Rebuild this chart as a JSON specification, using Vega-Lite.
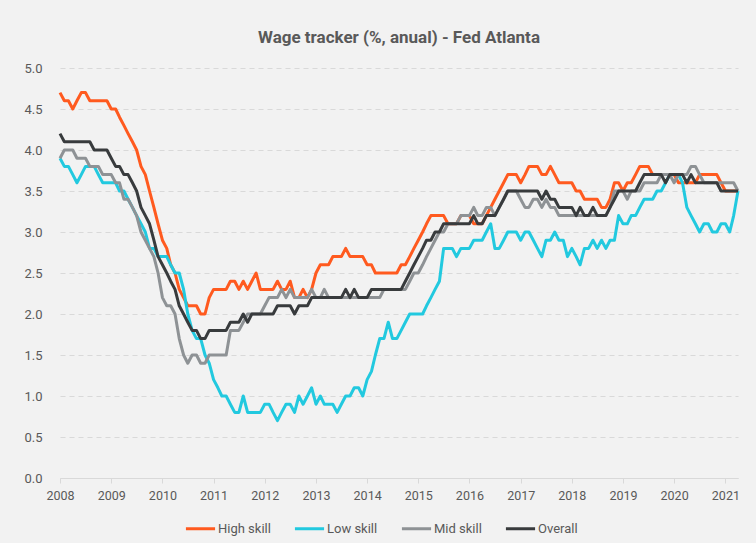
{"$schema":"https://vega.github.io/schema/vega-lite/v6.json","width":678,"height":410,"autosize":{"type":"none"},"padding":{"left":60,"top":68,"right":18,"bottom":65},"background":"#f2f2f2","config":{"view":{"stroke":null},"font":"Roboto"},"title":{"text":"Wage tracker (%, anual) - Fed Atlanta","fontSize":17,"fontWeight":"bold","color":"#595959","font":"Roboto","anchor":"middle","offset":15},"data":{"values":[
{"date":"2008-01-01","series":"High skill","value":4.7},{"date":"2008-02-01","series":"High skill","value":4.6},{"date":"2008-03-01","series":"High skill","value":4.6},{"date":"2008-04-01","series":"High skill","value":4.5},{"date":"2008-05-01","series":"High skill","value":4.6},{"date":"2008-06-01","series":"High skill","value":4.7},{"date":"2008-07-01","series":"High skill","value":4.7},{"date":"2008-08-01","series":"High skill","value":4.6},{"date":"2008-09-01","series":"High skill","value":4.6},{"date":"2008-10-01","series":"High skill","value":4.6},{"date":"2008-11-01","series":"High skill","value":4.6},{"date":"2008-12-01","series":"High skill","value":4.6},
{"date":"2009-01-01","series":"High skill","value":4.5},{"date":"2009-02-01","series":"High skill","value":4.5},{"date":"2009-03-01","series":"High skill","value":4.4},{"date":"2009-04-01","series":"High skill","value":4.3},{"date":"2009-05-01","series":"High skill","value":4.2},{"date":"2009-06-01","series":"High skill","value":4.1},{"date":"2009-07-01","series":"High skill","value":4.0},{"date":"2009-08-01","series":"High skill","value":3.8},{"date":"2009-09-01","series":"High skill","value":3.7},{"date":"2009-10-01","series":"High skill","value":3.5},{"date":"2009-11-01","series":"High skill","value":3.3},{"date":"2009-12-01","series":"High skill","value":3.1},
{"date":"2010-01-01","series":"High skill","value":2.9},{"date":"2010-02-01","series":"High skill","value":2.8},{"date":"2010-03-01","series":"High skill","value":2.6},{"date":"2010-04-01","series":"High skill","value":2.5},{"date":"2010-05-01","series":"High skill","value":2.3},{"date":"2010-06-01","series":"High skill","value":2.2},{"date":"2010-07-01","series":"High skill","value":2.1},{"date":"2010-08-01","series":"High skill","value":2.1},{"date":"2010-09-01","series":"High skill","value":2.1},{"date":"2010-10-01","series":"High skill","value":2.0},{"date":"2010-11-01","series":"High skill","value":2.0},{"date":"2010-12-01","series":"High skill","value":2.2},
{"date":"2011-01-01","series":"High skill","value":2.3},{"date":"2011-02-01","series":"High skill","value":2.3},{"date":"2011-03-01","series":"High skill","value":2.3},{"date":"2011-04-01","series":"High skill","value":2.3},{"date":"2011-05-01","series":"High skill","value":2.4},{"date":"2011-06-01","series":"High skill","value":2.4},{"date":"2011-07-01","series":"High skill","value":2.3},{"date":"2011-08-01","series":"High skill","value":2.4},{"date":"2011-09-01","series":"High skill","value":2.3},{"date":"2011-10-01","series":"High skill","value":2.4},{"date":"2011-11-01","series":"High skill","value":2.5},{"date":"2011-12-01","series":"High skill","value":2.3},
{"date":"2012-01-01","series":"High skill","value":2.3},{"date":"2012-02-01","series":"High skill","value":2.3},{"date":"2012-03-01","series":"High skill","value":2.3},{"date":"2012-04-01","series":"High skill","value":2.4},{"date":"2012-05-01","series":"High skill","value":2.3},{"date":"2012-06-01","series":"High skill","value":2.3},{"date":"2012-07-01","series":"High skill","value":2.4},{"date":"2012-08-01","series":"High skill","value":2.2},{"date":"2012-09-01","series":"High skill","value":2.2},{"date":"2012-10-01","series":"High skill","value":2.3},{"date":"2012-11-01","series":"High skill","value":2.2},{"date":"2012-12-01","series":"High skill","value":2.3},
{"date":"2013-01-01","series":"High skill","value":2.5},{"date":"2013-02-01","series":"High skill","value":2.6},{"date":"2013-03-01","series":"High skill","value":2.6},{"date":"2013-04-01","series":"High skill","value":2.6},{"date":"2013-05-01","series":"High skill","value":2.7},{"date":"2013-06-01","series":"High skill","value":2.7},{"date":"2013-07-01","series":"High skill","value":2.7},{"date":"2013-08-01","series":"High skill","value":2.8},{"date":"2013-09-01","series":"High skill","value":2.7},{"date":"2013-10-01","series":"High skill","value":2.7},{"date":"2013-11-01","series":"High skill","value":2.7},{"date":"2013-12-01","series":"High skill","value":2.7},
{"date":"2014-01-01","series":"High skill","value":2.6},{"date":"2014-02-01","series":"High skill","value":2.6},{"date":"2014-03-01","series":"High skill","value":2.5},{"date":"2014-04-01","series":"High skill","value":2.5},{"date":"2014-05-01","series":"High skill","value":2.5},{"date":"2014-06-01","series":"High skill","value":2.5},{"date":"2014-07-01","series":"High skill","value":2.5},{"date":"2014-08-01","series":"High skill","value":2.5},{"date":"2014-09-01","series":"High skill","value":2.6},{"date":"2014-10-01","series":"High skill","value":2.6},{"date":"2014-11-01","series":"High skill","value":2.7},{"date":"2014-12-01","series":"High skill","value":2.8},
{"date":"2015-01-01","series":"High skill","value":2.9},{"date":"2015-02-01","series":"High skill","value":3.0},{"date":"2015-03-01","series":"High skill","value":3.1},{"date":"2015-04-01","series":"High skill","value":3.2},{"date":"2015-05-01","series":"High skill","value":3.2},{"date":"2015-06-01","series":"High skill","value":3.2},{"date":"2015-07-01","series":"High skill","value":3.2},{"date":"2015-08-01","series":"High skill","value":3.1},{"date":"2015-09-01","series":"High skill","value":3.1},{"date":"2015-10-01","series":"High skill","value":3.1},{"date":"2015-11-01","series":"High skill","value":3.2},{"date":"2015-12-01","series":"High skill","value":3.2},
{"date":"2016-01-01","series":"High skill","value":3.2},{"date":"2016-02-01","series":"High skill","value":3.1},{"date":"2016-03-01","series":"High skill","value":3.1},{"date":"2016-04-01","series":"High skill","value":3.1},{"date":"2016-05-01","series":"High skill","value":3.2},{"date":"2016-06-01","series":"High skill","value":3.3},{"date":"2016-07-01","series":"High skill","value":3.4},{"date":"2016-08-01","series":"High skill","value":3.5},{"date":"2016-09-01","series":"High skill","value":3.6},{"date":"2016-10-01","series":"High skill","value":3.7},{"date":"2016-11-01","series":"High skill","value":3.7},{"date":"2016-12-01","series":"High skill","value":3.7},
{"date":"2017-01-01","series":"High skill","value":3.6},{"date":"2017-02-01","series":"High skill","value":3.7},{"date":"2017-03-01","series":"High skill","value":3.8},{"date":"2017-04-01","series":"High skill","value":3.8},{"date":"2017-05-01","series":"High skill","value":3.8},{"date":"2017-06-01","series":"High skill","value":3.7},{"date":"2017-07-01","series":"High skill","value":3.7},{"date":"2017-08-01","series":"High skill","value":3.8},{"date":"2017-09-01","series":"High skill","value":3.7},{"date":"2017-10-01","series":"High skill","value":3.6},{"date":"2017-11-01","series":"High skill","value":3.6},{"date":"2017-12-01","series":"High skill","value":3.6},
{"date":"2018-01-01","series":"High skill","value":3.6},{"date":"2018-02-01","series":"High skill","value":3.5},{"date":"2018-03-01","series":"High skill","value":3.5},{"date":"2018-04-01","series":"High skill","value":3.4},{"date":"2018-05-01","series":"High skill","value":3.4},{"date":"2018-06-01","series":"High skill","value":3.4},{"date":"2018-07-01","series":"High skill","value":3.4},{"date":"2018-08-01","series":"High skill","value":3.3},{"date":"2018-09-01","series":"High skill","value":3.3},{"date":"2018-10-01","series":"High skill","value":3.4},{"date":"2018-11-01","series":"High skill","value":3.6},{"date":"2018-12-01","series":"High skill","value":3.6},
{"date":"2019-01-01","series":"High skill","value":3.5},{"date":"2019-02-01","series":"High skill","value":3.6},{"date":"2019-03-01","series":"High skill","value":3.6},{"date":"2019-04-01","series":"High skill","value":3.7},{"date":"2019-05-01","series":"High skill","value":3.8},{"date":"2019-06-01","series":"High skill","value":3.8},{"date":"2019-07-01","series":"High skill","value":3.8},{"date":"2019-08-01","series":"High skill","value":3.7},{"date":"2019-09-01","series":"High skill","value":3.7},{"date":"2019-10-01","series":"High skill","value":3.7},{"date":"2019-11-01","series":"High skill","value":3.7},{"date":"2019-12-01","series":"High skill","value":3.7},
{"date":"2020-01-01","series":"High skill","value":3.7},{"date":"2020-02-01","series":"High skill","value":3.6},{"date":"2020-03-01","series":"High skill","value":3.6},{"date":"2020-04-01","series":"High skill","value":3.6},{"date":"2020-05-01","series":"High skill","value":3.6},{"date":"2020-06-01","series":"High skill","value":3.6},{"date":"2020-07-01","series":"High skill","value":3.7},{"date":"2020-08-01","series":"High skill","value":3.7},{"date":"2020-09-01","series":"High skill","value":3.7},{"date":"2020-10-01","series":"High skill","value":3.7},{"date":"2020-11-01","series":"High skill","value":3.7},{"date":"2020-12-01","series":"High skill","value":3.6},
{"date":"2021-01-01","series":"High skill","value":3.5},{"date":"2021-02-01","series":"High skill","value":3.5},{"date":"2021-03-01","series":"High skill","value":3.5},{"date":"2021-04-01","series":"High skill","value":3.5},
{"date":"2008-01-01","series":"Low skill","value":3.9},{"date":"2008-02-01","series":"Low skill","value":3.8},{"date":"2008-03-01","series":"Low skill","value":3.8},{"date":"2008-04-01","series":"Low skill","value":3.7},{"date":"2008-05-01","series":"Low skill","value":3.6},{"date":"2008-06-01","series":"Low skill","value":3.7},{"date":"2008-07-01","series":"Low skill","value":3.8},{"date":"2008-08-01","series":"Low skill","value":3.8},{"date":"2008-09-01","series":"Low skill","value":3.8},{"date":"2008-10-01","series":"Low skill","value":3.7},{"date":"2008-11-01","series":"Low skill","value":3.6},{"date":"2008-12-01","series":"Low skill","value":3.6},
{"date":"2009-01-01","series":"Low skill","value":3.6},{"date":"2009-02-01","series":"Low skill","value":3.6},{"date":"2009-03-01","series":"Low skill","value":3.5},{"date":"2009-04-01","series":"Low skill","value":3.5},{"date":"2009-05-01","series":"Low skill","value":3.4},{"date":"2009-06-01","series":"Low skill","value":3.3},{"date":"2009-07-01","series":"Low skill","value":3.2},{"date":"2009-08-01","series":"Low skill","value":3.1},{"date":"2009-09-01","series":"Low skill","value":3.0},{"date":"2009-10-01","series":"Low skill","value":2.8},{"date":"2009-11-01","series":"Low skill","value":2.8},{"date":"2009-12-01","series":"Low skill","value":2.7},
{"date":"2010-01-01","series":"Low skill","value":2.7},{"date":"2010-02-01","series":"Low skill","value":2.7},{"date":"2010-03-01","series":"Low skill","value":2.6},{"date":"2010-04-01","series":"Low skill","value":2.5},{"date":"2010-05-01","series":"Low skill","value":2.5},{"date":"2010-06-01","series":"Low skill","value":2.3},{"date":"2010-07-01","series":"Low skill","value":2.0},{"date":"2010-08-01","series":"Low skill","value":1.8},{"date":"2010-09-01","series":"Low skill","value":1.7},{"date":"2010-10-01","series":"Low skill","value":1.7},{"date":"2010-11-01","series":"Low skill","value":1.5},{"date":"2010-12-01","series":"Low skill","value":1.4},
{"date":"2011-01-01","series":"Low skill","value":1.2},{"date":"2011-02-01","series":"Low skill","value":1.1},{"date":"2011-03-01","series":"Low skill","value":1.0},{"date":"2011-04-01","series":"Low skill","value":1.0},{"date":"2011-05-01","series":"Low skill","value":0.9},{"date":"2011-06-01","series":"Low skill","value":0.8},{"date":"2011-07-01","series":"Low skill","value":0.8},{"date":"2011-08-01","series":"Low skill","value":1.0},{"date":"2011-09-01","series":"Low skill","value":0.8},{"date":"2011-10-01","series":"Low skill","value":0.8},{"date":"2011-11-01","series":"Low skill","value":0.8},{"date":"2011-12-01","series":"Low skill","value":0.8},
{"date":"2012-01-01","series":"Low skill","value":0.9},{"date":"2012-02-01","series":"Low skill","value":0.9},{"date":"2012-03-01","series":"Low skill","value":0.8},{"date":"2012-04-01","series":"Low skill","value":0.7},{"date":"2012-05-01","series":"Low skill","value":0.8},{"date":"2012-06-01","series":"Low skill","value":0.9},{"date":"2012-07-01","series":"Low skill","value":0.9},{"date":"2012-08-01","series":"Low skill","value":0.8},{"date":"2012-09-01","series":"Low skill","value":1.0},{"date":"2012-10-01","series":"Low skill","value":0.9},{"date":"2012-11-01","series":"Low skill","value":1.0},{"date":"2012-12-01","series":"Low skill","value":1.1},
{"date":"2013-01-01","series":"Low skill","value":0.9},{"date":"2013-02-01","series":"Low skill","value":1.0},{"date":"2013-03-01","series":"Low skill","value":0.9},{"date":"2013-04-01","series":"Low skill","value":0.9},{"date":"2013-05-01","series":"Low skill","value":0.9},{"date":"2013-06-01","series":"Low skill","value":0.8},{"date":"2013-07-01","series":"Low skill","value":0.9},{"date":"2013-08-01","series":"Low skill","value":1.0},{"date":"2013-09-01","series":"Low skill","value":1.0},{"date":"2013-10-01","series":"Low skill","value":1.1},{"date":"2013-11-01","series":"Low skill","value":1.1},{"date":"2013-12-01","series":"Low skill","value":1.0},
{"date":"2014-01-01","series":"Low skill","value":1.2},{"date":"2014-02-01","series":"Low skill","value":1.3},{"date":"2014-03-01","series":"Low skill","value":1.5},{"date":"2014-04-01","series":"Low skill","value":1.7},{"date":"2014-05-01","series":"Low skill","value":1.7},{"date":"2014-06-01","series":"Low skill","value":1.9},{"date":"2014-07-01","series":"Low skill","value":1.7},{"date":"2014-08-01","series":"Low skill","value":1.7},{"date":"2014-09-01","series":"Low skill","value":1.8},{"date":"2014-10-01","series":"Low skill","value":1.9},{"date":"2014-11-01","series":"Low skill","value":2.0},{"date":"2014-12-01","series":"Low skill","value":2.0},
{"date":"2015-01-01","series":"Low skill","value":2.0},{"date":"2015-02-01","series":"Low skill","value":2.0},{"date":"2015-03-01","series":"Low skill","value":2.1},{"date":"2015-04-01","series":"Low skill","value":2.2},{"date":"2015-05-01","series":"Low skill","value":2.3},{"date":"2015-06-01","series":"Low skill","value":2.4},{"date":"2015-07-01","series":"Low skill","value":2.8},{"date":"2015-08-01","series":"Low skill","value":2.8},{"date":"2015-09-01","series":"Low skill","value":2.8},{"date":"2015-10-01","series":"Low skill","value":2.7},{"date":"2015-11-01","series":"Low skill","value":2.8},{"date":"2015-12-01","series":"Low skill","value":2.8},
{"date":"2016-01-01","series":"Low skill","value":2.8},{"date":"2016-02-01","series":"Low skill","value":2.9},{"date":"2016-03-01","series":"Low skill","value":2.9},{"date":"2016-04-01","series":"Low skill","value":2.9},{"date":"2016-05-01","series":"Low skill","value":3.0},{"date":"2016-06-01","series":"Low skill","value":3.1},{"date":"2016-07-01","series":"Low skill","value":2.8},{"date":"2016-08-01","series":"Low skill","value":2.8},{"date":"2016-09-01","series":"Low skill","value":2.9},{"date":"2016-10-01","series":"Low skill","value":3.0},{"date":"2016-11-01","series":"Low skill","value":3.0},{"date":"2016-12-01","series":"Low skill","value":3.0},
{"date":"2017-01-01","series":"Low skill","value":2.9},{"date":"2017-02-01","series":"Low skill","value":3.0},{"date":"2017-03-01","series":"Low skill","value":3.0},{"date":"2017-04-01","series":"Low skill","value":2.9},{"date":"2017-05-01","series":"Low skill","value":2.8},{"date":"2017-06-01","series":"Low skill","value":2.7},{"date":"2017-07-01","series":"Low skill","value":2.9},{"date":"2017-08-01","series":"Low skill","value":2.9},{"date":"2017-09-01","series":"Low skill","value":3.0},{"date":"2017-10-01","series":"Low skill","value":2.9},{"date":"2017-11-01","series":"Low skill","value":2.9},{"date":"2017-12-01","series":"Low skill","value":2.7},
{"date":"2018-01-01","series":"Low skill","value":2.8},{"date":"2018-02-01","series":"Low skill","value":2.7},{"date":"2018-03-01","series":"Low skill","value":2.6},{"date":"2018-04-01","series":"Low skill","value":2.8},{"date":"2018-05-01","series":"Low skill","value":2.8},{"date":"2018-06-01","series":"Low skill","value":2.9},{"date":"2018-07-01","series":"Low skill","value":2.8},{"date":"2018-08-01","series":"Low skill","value":2.9},{"date":"2018-09-01","series":"Low skill","value":2.8},{"date":"2018-10-01","series":"Low skill","value":2.9},{"date":"2018-11-01","series":"Low skill","value":2.9},{"date":"2018-12-01","series":"Low skill","value":3.2},
{"date":"2019-01-01","series":"Low skill","value":3.1},{"date":"2019-02-01","series":"Low skill","value":3.1},{"date":"2019-03-01","series":"Low skill","value":3.2},{"date":"2019-04-01","series":"Low skill","value":3.2},{"date":"2019-05-01","series":"Low skill","value":3.3},{"date":"2019-06-01","series":"Low skill","value":3.4},{"date":"2019-07-01","series":"Low skill","value":3.4},{"date":"2019-08-01","series":"Low skill","value":3.4},{"date":"2019-09-01","series":"Low skill","value":3.5},{"date":"2019-10-01","series":"Low skill","value":3.5},{"date":"2019-11-01","series":"Low skill","value":3.6},{"date":"2019-12-01","series":"Low skill","value":3.7},
{"date":"2020-01-01","series":"Low skill","value":3.7},{"date":"2020-02-01","series":"Low skill","value":3.7},{"date":"2020-03-01","series":"Low skill","value":3.6},{"date":"2020-04-01","series":"Low skill","value":3.3},{"date":"2020-05-01","series":"Low skill","value":3.2},{"date":"2020-06-01","series":"Low skill","value":3.1},{"date":"2020-07-01","series":"Low skill","value":3.0},{"date":"2020-08-01","series":"Low skill","value":3.1},{"date":"2020-09-01","series":"Low skill","value":3.1},{"date":"2020-10-01","series":"Low skill","value":3.0},{"date":"2020-11-01","series":"Low skill","value":3.0},{"date":"2020-12-01","series":"Low skill","value":3.1},
{"date":"2021-01-01","series":"Low skill","value":3.1},{"date":"2021-02-01","series":"Low skill","value":3.0},{"date":"2021-03-01","series":"Low skill","value":3.2},{"date":"2021-04-01","series":"Low skill","value":3.5},
{"date":"2008-01-01","series":"Mid skill","value":3.9},{"date":"2008-02-01","series":"Mid skill","value":4.0},{"date":"2008-03-01","series":"Mid skill","value":4.0},{"date":"2008-04-01","series":"Mid skill","value":4.0},{"date":"2008-05-01","series":"Mid skill","value":3.9},{"date":"2008-06-01","series":"Mid skill","value":3.9},{"date":"2008-07-01","series":"Mid skill","value":3.9},{"date":"2008-08-01","series":"Mid skill","value":3.8},{"date":"2008-09-01","series":"Mid skill","value":3.8},{"date":"2008-10-01","series":"Mid skill","value":3.8},{"date":"2008-11-01","series":"Mid skill","value":3.7},{"date":"2008-12-01","series":"Mid skill","value":3.7},
{"date":"2009-01-01","series":"Mid skill","value":3.7},{"date":"2009-02-01","series":"Mid skill","value":3.6},{"date":"2009-03-01","series":"Mid skill","value":3.6},{"date":"2009-04-01","series":"Mid skill","value":3.4},{"date":"2009-05-01","series":"Mid skill","value":3.4},{"date":"2009-06-01","series":"Mid skill","value":3.3},{"date":"2009-07-01","series":"Mid skill","value":3.2},{"date":"2009-08-01","series":"Mid skill","value":3.0},{"date":"2009-09-01","series":"Mid skill","value":2.9},{"date":"2009-10-01","series":"Mid skill","value":2.8},{"date":"2009-11-01","series":"Mid skill","value":2.7},{"date":"2009-12-01","series":"Mid skill","value":2.5},
{"date":"2010-01-01","series":"Mid skill","value":2.2},{"date":"2010-02-01","series":"Mid skill","value":2.1},{"date":"2010-03-01","series":"Mid skill","value":2.1},{"date":"2010-04-01","series":"Mid skill","value":2.0},{"date":"2010-05-01","series":"Mid skill","value":1.7},{"date":"2010-06-01","series":"Mid skill","value":1.5},{"date":"2010-07-01","series":"Mid skill","value":1.4},{"date":"2010-08-01","series":"Mid skill","value":1.5},{"date":"2010-09-01","series":"Mid skill","value":1.5},{"date":"2010-10-01","series":"Mid skill","value":1.4},{"date":"2010-11-01","series":"Mid skill","value":1.4},{"date":"2010-12-01","series":"Mid skill","value":1.5},
{"date":"2011-01-01","series":"Mid skill","value":1.5},{"date":"2011-02-01","series":"Mid skill","value":1.5},{"date":"2011-03-01","series":"Mid skill","value":1.5},{"date":"2011-04-01","series":"Mid skill","value":1.5},{"date":"2011-05-01","series":"Mid skill","value":1.8},{"date":"2011-06-01","series":"Mid skill","value":1.8},{"date":"2011-07-01","series":"Mid skill","value":1.8},{"date":"2011-08-01","series":"Mid skill","value":1.9},{"date":"2011-09-01","series":"Mid skill","value":2.0},{"date":"2011-10-01","series":"Mid skill","value":2.0},{"date":"2011-11-01","series":"Mid skill","value":2.0},{"date":"2011-12-01","series":"Mid skill","value":2.0},
{"date":"2012-01-01","series":"Mid skill","value":2.1},{"date":"2012-02-01","series":"Mid skill","value":2.2},{"date":"2012-03-01","series":"Mid skill","value":2.2},{"date":"2012-04-01","series":"Mid skill","value":2.2},{"date":"2012-05-01","series":"Mid skill","value":2.3},{"date":"2012-06-01","series":"Mid skill","value":2.2},{"date":"2012-07-01","series":"Mid skill","value":2.3},{"date":"2012-08-01","series":"Mid skill","value":2.2},{"date":"2012-09-01","series":"Mid skill","value":2.2},{"date":"2012-10-01","series":"Mid skill","value":2.2},{"date":"2012-11-01","series":"Mid skill","value":2.2},{"date":"2012-12-01","series":"Mid skill","value":2.3},
{"date":"2013-01-01","series":"Mid skill","value":2.2},{"date":"2013-02-01","series":"Mid skill","value":2.2},{"date":"2013-03-01","series":"Mid skill","value":2.3},{"date":"2013-04-01","series":"Mid skill","value":2.2},{"date":"2013-05-01","series":"Mid skill","value":2.2},{"date":"2013-06-01","series":"Mid skill","value":2.2},{"date":"2013-07-01","series":"Mid skill","value":2.2},{"date":"2013-08-01","series":"Mid skill","value":2.2},{"date":"2013-09-01","series":"Mid skill","value":2.2},{"date":"2013-10-01","series":"Mid skill","value":2.2},{"date":"2013-11-01","series":"Mid skill","value":2.2},{"date":"2013-12-01","series":"Mid skill","value":2.2},
{"date":"2014-01-01","series":"Mid skill","value":2.2},{"date":"2014-02-01","series":"Mid skill","value":2.2},{"date":"2014-03-01","series":"Mid skill","value":2.2},{"date":"2014-04-01","series":"Mid skill","value":2.2},{"date":"2014-05-01","series":"Mid skill","value":2.3},{"date":"2014-06-01","series":"Mid skill","value":2.3},{"date":"2014-07-01","series":"Mid skill","value":2.3},{"date":"2014-08-01","series":"Mid skill","value":2.3},{"date":"2014-09-01","series":"Mid skill","value":2.3},{"date":"2014-10-01","series":"Mid skill","value":2.3},{"date":"2014-11-01","series":"Mid skill","value":2.4},{"date":"2014-12-01","series":"Mid skill","value":2.5},
{"date":"2015-01-01","series":"Mid skill","value":2.5},{"date":"2015-02-01","series":"Mid skill","value":2.6},{"date":"2015-03-01","series":"Mid skill","value":2.7},{"date":"2015-04-01","series":"Mid skill","value":2.8},{"date":"2015-05-01","series":"Mid skill","value":2.9},{"date":"2015-06-01","series":"Mid skill","value":3.0},{"date":"2015-07-01","series":"Mid skill","value":3.0},{"date":"2015-08-01","series":"Mid skill","value":3.1},{"date":"2015-09-01","series":"Mid skill","value":3.1},{"date":"2015-10-01","series":"Mid skill","value":3.1},{"date":"2015-11-01","series":"Mid skill","value":3.2},{"date":"2015-12-01","series":"Mid skill","value":3.2},
{"date":"2016-01-01","series":"Mid skill","value":3.2},{"date":"2016-02-01","series":"Mid skill","value":3.3},{"date":"2016-03-01","series":"Mid skill","value":3.2},{"date":"2016-04-01","series":"Mid skill","value":3.2},{"date":"2016-05-01","series":"Mid skill","value":3.3},{"date":"2016-06-01","series":"Mid skill","value":3.3},{"date":"2016-07-01","series":"Mid skill","value":3.2},{"date":"2016-08-01","series":"Mid skill","value":3.3},{"date":"2016-09-01","series":"Mid skill","value":3.4},{"date":"2016-10-01","series":"Mid skill","value":3.5},{"date":"2016-11-01","series":"Mid skill","value":3.5},{"date":"2016-12-01","series":"Mid skill","value":3.5},
{"date":"2017-01-01","series":"Mid skill","value":3.4},{"date":"2017-02-01","series":"Mid skill","value":3.3},{"date":"2017-03-01","series":"Mid skill","value":3.3},{"date":"2017-04-01","series":"Mid skill","value":3.4},{"date":"2017-05-01","series":"Mid skill","value":3.4},{"date":"2017-06-01","series":"Mid skill","value":3.3},{"date":"2017-07-01","series":"Mid skill","value":3.4},{"date":"2017-08-01","series":"Mid skill","value":3.3},{"date":"2017-09-01","series":"Mid skill","value":3.3},{"date":"2017-10-01","series":"Mid skill","value":3.2},{"date":"2017-11-01","series":"Mid skill","value":3.2},{"date":"2017-12-01","series":"Mid skill","value":3.2},
{"date":"2018-01-01","series":"Mid skill","value":3.2},{"date":"2018-02-01","series":"Mid skill","value":3.2},{"date":"2018-03-01","series":"Mid skill","value":3.2},{"date":"2018-04-01","series":"Mid skill","value":3.2},{"date":"2018-05-01","series":"Mid skill","value":3.2},{"date":"2018-06-01","series":"Mid skill","value":3.2},{"date":"2018-07-01","series":"Mid skill","value":3.2},{"date":"2018-08-01","series":"Mid skill","value":3.2},{"date":"2018-09-01","series":"Mid skill","value":3.2},{"date":"2018-10-01","series":"Mid skill","value":3.3},{"date":"2018-11-01","series":"Mid skill","value":3.5},{"date":"2018-12-01","series":"Mid skill","value":3.5},
{"date":"2019-01-01","series":"Mid skill","value":3.5},{"date":"2019-02-01","series":"Mid skill","value":3.4},{"date":"2019-03-01","series":"Mid skill","value":3.5},{"date":"2019-04-01","series":"Mid skill","value":3.5},{"date":"2019-05-01","series":"Mid skill","value":3.5},{"date":"2019-06-01","series":"Mid skill","value":3.6},{"date":"2019-07-01","series":"Mid skill","value":3.6},{"date":"2019-08-01","series":"Mid skill","value":3.6},{"date":"2019-09-01","series":"Mid skill","value":3.6},{"date":"2019-10-01","series":"Mid skill","value":3.7},{"date":"2019-11-01","series":"Mid skill","value":3.7},{"date":"2019-12-01","series":"Mid skill","value":3.7},
{"date":"2020-01-01","series":"Mid skill","value":3.6},{"date":"2020-02-01","series":"Mid skill","value":3.7},{"date":"2020-03-01","series":"Mid skill","value":3.7},{"date":"2020-04-01","series":"Mid skill","value":3.7},{"date":"2020-05-01","series":"Mid skill","value":3.8},{"date":"2020-06-01","series":"Mid skill","value":3.8},{"date":"2020-07-01","series":"Mid skill","value":3.7},{"date":"2020-08-01","series":"Mid skill","value":3.6},{"date":"2020-09-01","series":"Mid skill","value":3.6},{"date":"2020-10-01","series":"Mid skill","value":3.6},{"date":"2020-11-01","series":"Mid skill","value":3.6},{"date":"2020-12-01","series":"Mid skill","value":3.6},
{"date":"2021-01-01","series":"Mid skill","value":3.6},{"date":"2021-02-01","series":"Mid skill","value":3.6},{"date":"2021-03-01","series":"Mid skill","value":3.6},{"date":"2021-04-01","series":"Mid skill","value":3.5},
{"date":"2008-01-01","series":"Overall","value":4.2},{"date":"2008-02-01","series":"Overall","value":4.1},{"date":"2008-03-01","series":"Overall","value":4.1},{"date":"2008-04-01","series":"Overall","value":4.1},{"date":"2008-05-01","series":"Overall","value":4.1},{"date":"2008-06-01","series":"Overall","value":4.1},{"date":"2008-07-01","series":"Overall","value":4.1},{"date":"2008-08-01","series":"Overall","value":4.1},{"date":"2008-09-01","series":"Overall","value":4.0},{"date":"2008-10-01","series":"Overall","value":4.0},{"date":"2008-11-01","series":"Overall","value":4.0},{"date":"2008-12-01","series":"Overall","value":4.0},
{"date":"2009-01-01","series":"Overall","value":3.9},{"date":"2009-02-01","series":"Overall","value":3.8},{"date":"2009-03-01","series":"Overall","value":3.8},{"date":"2009-04-01","series":"Overall","value":3.7},{"date":"2009-05-01","series":"Overall","value":3.7},{"date":"2009-06-01","series":"Overall","value":3.6},{"date":"2009-07-01","series":"Overall","value":3.5},{"date":"2009-08-01","series":"Overall","value":3.3},{"date":"2009-09-01","series":"Overall","value":3.2},{"date":"2009-10-01","series":"Overall","value":3.1},{"date":"2009-11-01","series":"Overall","value":2.9},{"date":"2009-12-01","series":"Overall","value":2.7},
{"date":"2010-01-01","series":"Overall","value":2.6},{"date":"2010-02-01","series":"Overall","value":2.5},{"date":"2010-03-01","series":"Overall","value":2.4},{"date":"2010-04-01","series":"Overall","value":2.3},{"date":"2010-05-01","series":"Overall","value":2.1},{"date":"2010-06-01","series":"Overall","value":2.0},{"date":"2010-07-01","series":"Overall","value":1.9},{"date":"2010-08-01","series":"Overall","value":1.8},{"date":"2010-09-01","series":"Overall","value":1.8},{"date":"2010-10-01","series":"Overall","value":1.7},{"date":"2010-11-01","series":"Overall","value":1.7},{"date":"2010-12-01","series":"Overall","value":1.8},
{"date":"2011-01-01","series":"Overall","value":1.8},{"date":"2011-02-01","series":"Overall","value":1.8},{"date":"2011-03-01","series":"Overall","value":1.8},{"date":"2011-04-01","series":"Overall","value":1.8},{"date":"2011-05-01","series":"Overall","value":1.9},{"date":"2011-06-01","series":"Overall","value":1.9},{"date":"2011-07-01","series":"Overall","value":1.9},{"date":"2011-08-01","series":"Overall","value":2.0},{"date":"2011-09-01","series":"Overall","value":1.9},{"date":"2011-10-01","series":"Overall","value":2.0},{"date":"2011-11-01","series":"Overall","value":2.0},{"date":"2011-12-01","series":"Overall","value":2.0},
{"date":"2012-01-01","series":"Overall","value":2.0},{"date":"2012-02-01","series":"Overall","value":2.0},{"date":"2012-03-01","series":"Overall","value":2.0},{"date":"2012-04-01","series":"Overall","value":2.1},{"date":"2012-05-01","series":"Overall","value":2.1},{"date":"2012-06-01","series":"Overall","value":2.1},{"date":"2012-07-01","series":"Overall","value":2.1},{"date":"2012-08-01","series":"Overall","value":2.0},{"date":"2012-09-01","series":"Overall","value":2.1},{"date":"2012-10-01","series":"Overall","value":2.1},{"date":"2012-11-01","series":"Overall","value":2.1},{"date":"2012-12-01","series":"Overall","value":2.2},
{"date":"2013-01-01","series":"Overall","value":2.2},{"date":"2013-02-01","series":"Overall","value":2.2},{"date":"2013-03-01","series":"Overall","value":2.2},{"date":"2013-04-01","series":"Overall","value":2.2},{"date":"2013-05-01","series":"Overall","value":2.2},{"date":"2013-06-01","series":"Overall","value":2.2},{"date":"2013-07-01","series":"Overall","value":2.2},{"date":"2013-08-01","series":"Overall","value":2.3},{"date":"2013-09-01","series":"Overall","value":2.2},{"date":"2013-10-01","series":"Overall","value":2.3},{"date":"2013-11-01","series":"Overall","value":2.2},{"date":"2013-12-01","series":"Overall","value":2.2},
{"date":"2014-01-01","series":"Overall","value":2.2},{"date":"2014-02-01","series":"Overall","value":2.3},{"date":"2014-03-01","series":"Overall","value":2.3},{"date":"2014-04-01","series":"Overall","value":2.3},{"date":"2014-05-01","series":"Overall","value":2.3},{"date":"2014-06-01","series":"Overall","value":2.3},{"date":"2014-07-01","series":"Overall","value":2.3},{"date":"2014-08-01","series":"Overall","value":2.3},{"date":"2014-09-01","series":"Overall","value":2.3},{"date":"2014-10-01","series":"Overall","value":2.4},{"date":"2014-11-01","series":"Overall","value":2.5},{"date":"2014-12-01","series":"Overall","value":2.6},
{"date":"2015-01-01","series":"Overall","value":2.7},{"date":"2015-02-01","series":"Overall","value":2.8},{"date":"2015-03-01","series":"Overall","value":2.9},{"date":"2015-04-01","series":"Overall","value":2.9},{"date":"2015-05-01","series":"Overall","value":3.0},{"date":"2015-06-01","series":"Overall","value":3.0},{"date":"2015-07-01","series":"Overall","value":3.1},{"date":"2015-08-01","series":"Overall","value":3.1},{"date":"2015-09-01","series":"Overall","value":3.1},{"date":"2015-10-01","series":"Overall","value":3.1},{"date":"2015-11-01","series":"Overall","value":3.1},{"date":"2015-12-01","series":"Overall","value":3.1},
{"date":"2016-01-01","series":"Overall","value":3.1},{"date":"2016-02-01","series":"Overall","value":3.2},{"date":"2016-03-01","series":"Overall","value":3.1},{"date":"2016-04-01","series":"Overall","value":3.1},{"date":"2016-05-01","series":"Overall","value":3.2},{"date":"2016-06-01","series":"Overall","value":3.2},{"date":"2016-07-01","series":"Overall","value":3.2},{"date":"2016-08-01","series":"Overall","value":3.3},{"date":"2016-09-01","series":"Overall","value":3.4},{"date":"2016-10-01","series":"Overall","value":3.5},{"date":"2016-11-01","series":"Overall","value":3.5},{"date":"2016-12-01","series":"Overall","value":3.5},
{"date":"2017-01-01","series":"Overall","value":3.5},{"date":"2017-02-01","series":"Overall","value":3.5},{"date":"2017-03-01","series":"Overall","value":3.5},{"date":"2017-04-01","series":"Overall","value":3.5},{"date":"2017-05-01","series":"Overall","value":3.5},{"date":"2017-06-01","series":"Overall","value":3.4},{"date":"2017-07-01","series":"Overall","value":3.5},{"date":"2017-08-01","series":"Overall","value":3.4},{"date":"2017-09-01","series":"Overall","value":3.4},{"date":"2017-10-01","series":"Overall","value":3.3},{"date":"2017-11-01","series":"Overall","value":3.3},{"date":"2017-12-01","series":"Overall","value":3.3},
{"date":"2018-01-01","series":"Overall","value":3.3},{"date":"2018-02-01","series":"Overall","value":3.2},{"date":"2018-03-01","series":"Overall","value":3.3},{"date":"2018-04-01","series":"Overall","value":3.2},{"date":"2018-05-01","series":"Overall","value":3.2},{"date":"2018-06-01","series":"Overall","value":3.3},{"date":"2018-07-01","series":"Overall","value":3.2},{"date":"2018-08-01","series":"Overall","value":3.2},{"date":"2018-09-01","series":"Overall","value":3.2},{"date":"2018-10-01","series":"Overall","value":3.3},{"date":"2018-11-01","series":"Overall","value":3.4},{"date":"2018-12-01","series":"Overall","value":3.5},
{"date":"2019-01-01","series":"Overall","value":3.5},{"date":"2019-02-01","series":"Overall","value":3.5},{"date":"2019-03-01","series":"Overall","value":3.5},{"date":"2019-04-01","series":"Overall","value":3.5},{"date":"2019-05-01","series":"Overall","value":3.6},{"date":"2019-06-01","series":"Overall","value":3.7},{"date":"2019-07-01","series":"Overall","value":3.7},{"date":"2019-08-01","series":"Overall","value":3.7},{"date":"2019-09-01","series":"Overall","value":3.7},{"date":"2019-10-01","series":"Overall","value":3.7},{"date":"2019-11-01","series":"Overall","value":3.6},{"date":"2019-12-01","series":"Overall","value":3.7},
{"date":"2020-01-01","series":"Overall","value":3.7},{"date":"2020-02-01","series":"Overall","value":3.7},{"date":"2020-03-01","series":"Overall","value":3.7},{"date":"2020-04-01","series":"Overall","value":3.6},{"date":"2020-05-01","series":"Overall","value":3.7},{"date":"2020-06-01","series":"Overall","value":3.6},{"date":"2020-07-01","series":"Overall","value":3.6},{"date":"2020-08-01","series":"Overall","value":3.6},{"date":"2020-09-01","series":"Overall","value":3.6},{"date":"2020-10-01","series":"Overall","value":3.6},{"date":"2020-11-01","series":"Overall","value":3.6},{"date":"2020-12-01","series":"Overall","value":3.5},
{"date":"2021-01-01","series":"Overall","value":3.5},{"date":"2021-02-01","series":"Overall","value":3.5},{"date":"2021-03-01","series":"Overall","value":3.5},{"date":"2021-04-01","series":"Overall","value":3.5}
]},"mark":{"type":"line","strokeWidth":3,"strokeJoin":"round"},"encoding":{"x":{"field":"date","type":"temporal","scale":{"type":"utc","nice":false},"axis":{"title":null,"format":"%Y","formatType":"utc","tickCount":{"interval":"year","step":1},"grid":false,"domainColor":"#d9d9d9","domainWidth":1,"tickColor":"#d9d9d9","tickSize":5,"labelColor":"#595959","labelFontSize":12.5,"labelPadding":6,"labelFlush":false}},"y":{"field":"value","type":"quantitative","scale":{"domain":[0,5]},"axis":{"title":null,"values":[0,0.5,1,1.5,2,2.5,3,3.5,4,4.5,5],"format":".1f","grid":true,"gridDash":[5,4],"gridColor":"#d9d9d9","gridWidth":1,"domain":false,"ticks":false,"labelColor":"#595959","labelFontSize":13,"labelPadding":18}},"color":{"field":"series","type":"nominal","scale":{"domain":["High skill","Low skill","Mid skill","Overall"],"range":["#ff5a1f","#22c9df","#8e9295","#383b3d"]},"legend":{"title":null,"orient":"none","legendX":124,"legendY":444,"direction":"horizontal","symbolType":"stroke","symbolStrokeWidth":3,"symbolSize":850,"labelFontSize":13,"labelColor":"#595959","labelOffset":1,"columnPadding":17}}}}
